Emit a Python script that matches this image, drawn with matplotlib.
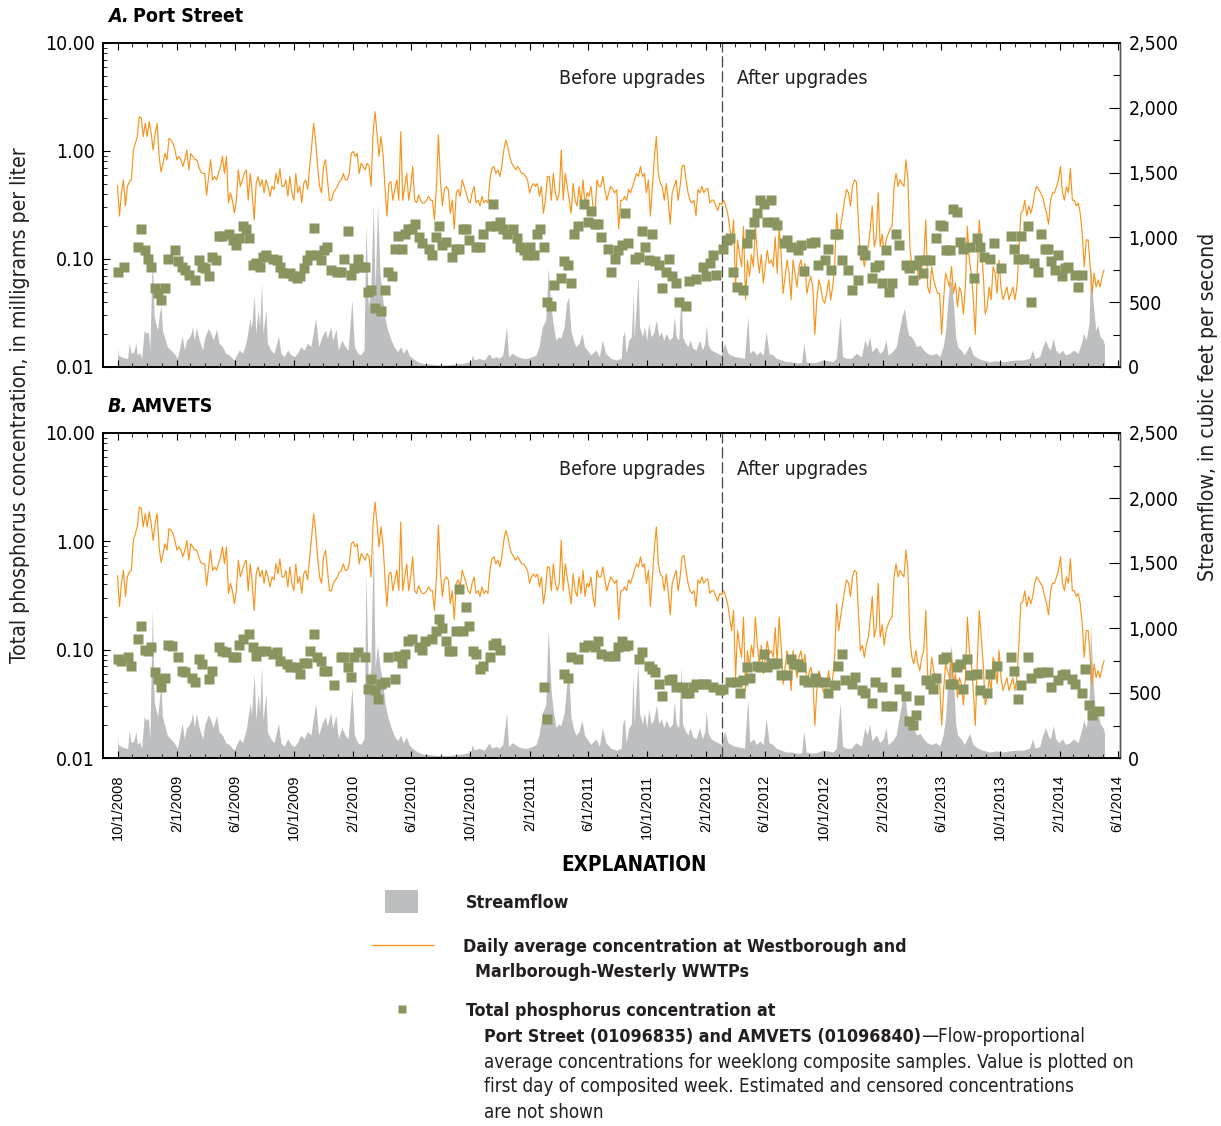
import matplotlib
matplotlib.use("Agg")
import matplotlib.pyplot as plt
import matplotlib.dates as mdates
from matplotlib.lines import Line2D
from matplotlib.patches import Rectangle
from matplotlib.ticker import FixedLocator, FuncFormatter, NullFormatter, LogLocator, MultipleLocator
import numpy as np
import pandas as pd

# Daily average concentration at Westborough and Marlborough-Westerly WWTPs (mg/L),
# read off the chart at a regular spacing between the first and last day plotted
wwtp_first_day = "2008-10-01"
wwtp_last_day = "2014-05-04"
conc_wwtp = [
    0.48, 0.25, 0.41, 0.54, 0.31, 0.47, 0.52, 0.54,
    1.02, 1.18, 1.36, 2.08, 2.01, 1.36, 1.80, 1.36, 1.87, 1.46, 1.02, 1.46,
    1.80, 0.89, 0.64, 0.77, 0.95, 0.83, 1.31, 1.26, 1.18, 1.02,
    0.83, 0.89, 0.83, 0.72, 0.83, 1.02, 0.67, 0.95, 0.89, 0.83,
    0.83, 0.72, 0.64, 0.62, 0.62, 0.39, 0.58, 0.83, 0.54, 0.58,
    0.54, 0.62, 0.72, 0.89, 0.62, 0.89, 0.33, 0.41, 0.35, 0.265,
    0.35, 0.67, 0.47, 0.54, 0.62, 0.67, 0.35, 0.62, 0.41, 0.23,
    0.50, 0.58, 0.47, 0.54, 0.41, 0.54, 0.47, 0.38, 0.47, 0.44,
    0.62, 0.50, 0.69, 0.47, 0.47, 0.54, 0.38, 0.58, 0.41, 0.35,
    0.62, 0.41, 0.47, 0.33, 0.50, 0.54, 0.44, 0.72, 1.10, 1.80,
    1.26, 0.72, 0.47, 0.41, 0.72, 0.83, 0.54, 0.35, 0.35, 0.41,
    0.44, 0.47, 0.52, 0.54, 0.62, 0.54, 0.54, 0.62, 0.95, 0.99,
    0.89, 0.95, 0.62, 0.77, 0.72, 0.67, 0.77, 0.72, 0.47, 1.46,
    2.31, 1.46, 0.89, 1.36, 0.95, 0.47, 0.25, 0.50, 0.52, 0.35,
    0.44, 0.54, 0.35, 1.51, 0.35, 0.47, 0.62, 0.35, 0.47, 0.72,
    0.35, 0.33, 0.39, 0.35, 0.33, 0.33, 0.35, 0.38, 0.35, 0.35,
    0.23, 0.47, 1.41, 0.54, 0.31, 0.44, 0.47, 0.44, 0.265, 0.35,
    0.19, 0.41, 0.44, 0.38, 0.54, 0.47, 0.41, 0.35, 0.33, 0.41,
    0.47, 0.33, 0.35, 0.31, 0.38, 0.33, 0.35, 0.33, 0.54, 0.69,
    0.72, 0.62, 0.67, 0.58, 0.72, 1.02, 1.26, 1.10, 0.89, 0.77,
    0.72, 0.67, 0.72, 0.67, 0.62, 0.62, 0.58, 0.54, 0.41, 0.47,
    0.50, 0.47, 0.50, 0.38, 0.47, 0.265, 0.35, 0.58, 0.58, 0.35,
    0.62, 0.41, 0.35, 0.41, 1.02, 0.35, 0.62, 0.47, 0.35, 0.265,
    0.50, 0.35, 0.31, 0.47, 0.33, 0.54, 0.31, 0.41, 0.38, 0.47,
    0.31, 0.25, 0.54, 0.47,
    0.47, 0.58, 0.44, 0.35, 0.41, 0.47, 0.44, 0.41, 0.44, 0.19,
    0.35, 0.35, 0.38, 0.35, 0.44, 0.41, 0.47, 0.54, 0.62, 0.58,
    0.72, 0.58, 0.62, 0.41, 0.54, 0.25, 0.47, 0.86, 1.36, 0.62,
    0.50, 0.47, 0.35, 0.50, 0.35, 0.21, 0.41, 0.47, 0.54, 0.35,
    0.47, 0.72, 0.74, 0.54, 0.41, 0.35, 0.33, 0.35, 0.25, 0.44,
    0.41, 0.47, 0.41, 0.44, 0.45, 0.33, 0.35, 0.35, 0.31, 0.28,
    0.33, 0.32, 0.35, 0.31, 0.265, 0.20, 0.15, 0.23, 0.055, 0.15,
    0.11, 0.085, 0.20, 0.042, 0.098, 0.069, 0.11, 0.085, 0.20, 0.11,
    0.074, 0.11, 0.060, 0.085, 0.12, 0.091, 0.098, 0.085, 0.16, 0.074,
    0.20, 0.11, 0.048, 0.069, 0.098, 0.074, 0.042, 0.098, 0.074, 0.055,
    0.085, 0.098, 0.069, 0.091, 0.048, 0.060, 0.069, 0.055, 0.020, 0.042,
    0.064, 0.055, 0.042, 0.039, 0.048, 0.064, 0.042, 0.055, 0.085, 0.265,
    0.15, 0.20, 0.265, 0.35, 0.44, 0.41, 0.31, 0.47, 0.54, 0.52,
    0.23, 0.098, 0.11, 0.085, 0.11, 0.13, 0.19, 0.31, 0.13, 0.16,
    0.41, 0.13, 0.17, 0.11, 0.15, 0.17, 0.19, 0.20, 0.47, 0.62,
    0.47, 0.54, 0.50, 0.47, 0.83, 0.54, 0.13, 0.085, 0.074, 0.098,
    0.074, 0.064, 0.085, 0.098, 0.23, 0.055, 0.048, 0.085, 0.064, 0.055,
    0.048, 0.048, 0.020, 0.042, 0.074, 0.064, 0.055, 0.085, 0.048, 0.060,
    0.036, 0.055, 0.048, 0.031, 0.055, 0.20, 0.098, 0.074, 0.042, 0.020,
    0.074, 0.23, 0.13, 0.074, 0.031, 0.036, 0.055, 0.042, 0.085, 0.074,
    0.048, 0.098, 0.055, 0.042, 0.048, 0.055, 0.042, 0.048, 0.055, 0.042,
    0.055, 0.11, 0.265, 0.28, 0.35, 0.25, 0.31, 0.265, 0.31, 0.41,
    0.47, 0.44, 0.41, 0.38, 0.31, 0.265, 0.21, 0.35, 0.41, 0.41,
    0.47, 0.54, 0.72, 0.41, 0.35, 0.47, 0.41, 0.69, 0.35, 0.35,
    0.31, 0.33, 0.265, 0.17, 0.085, 0.15, 0.15, 0.085, 0.048, 0.074,
    0.055, 0.064, 0.055, 0.069, 0.079,
]

# Streamflow (cfs): days after 10/1/2008 and the flow at each bend of the outline
flow_day = [
    0, 1, 10, 21, 24, 28, 34, 38, 41, 46,
    50, 55, 60, 64, 67, 72, 76, 79, 83, 86,
    90, 93, 97, 103, 110, 117, 124, 129, 134, 138,
    143, 147, 152, 155, 159, 163, 169, 176, 181, 188,
    193, 198, 205, 210, 217, 224, 231, 241, 252, 259,
    267, 274, 277, 283, 286, 291, 294, 298, 301, 307,
    310, 317, 324, 333, 338, 345, 352, 359, 366, 372,
    379, 386, 393, 400, 410, 416, 423, 430, 434, 441,
    445, 452, 457, 464, 471, 477, 485, 490, 497, 503,
    510, 514, 519, 524, 529, 533, 538, 543, 548, 554,
    559, 566, 572, 579, 586, 591, 598, 603, 610, 621,
    631, 645, 659, 679, 700, 714, 731, 734, 738, 748,
    759, 769, 774, 783, 790, 797, 805, 809, 817, 828,
    838, 848, 859, 866, 872, 879, 886, 891, 897, 901,
    907, 912, 917, 924, 929, 933, 938, 943, 948, 955,
    961, 966, 972, 979, 990, 997, 1003, 1010, 1021, 1032,
    1042, 1045, 1049, 1052, 1058, 1063, 1067, 1069, 1073, 1077,
    1080, 1086, 1090, 1095, 1099, 1104, 1109, 1115, 1120, 1125,
    1130, 1135, 1142, 1148, 1152, 1156, 1161, 1166, 1169, 1175,
    1180, 1185, 1190, 1197, 1204, 1210, 1215, 1218, 1222, 1228,
    1235, 1242, 1249, 1256, 1263, 1269, 1277, 1287, 1297, 1304,
    1308, 1315, 1322, 1329, 1336, 1342, 1348, 1356, 1363, 1373,
    1384, 1394, 1404, 1415, 1420, 1425, 1438, 1449, 1459, 1470,
    1480, 1487, 1495, 1500, 1508, 1518, 1528, 1539, 1546, 1551,
    1556, 1561, 1570, 1577, 1584, 1590, 1594, 1603, 1611, 1618,
    1623, 1628, 1633, 1637, 1642, 1647, 1653, 1660, 1668, 1675,
    1684, 1694, 1701, 1708, 1713, 1718, 1721, 1725, 1730, 1734,
    1738, 1745, 1752, 1763, 1770, 1780, 1790, 1804, 1818, 1832,
    1846, 1859, 1873, 1887, 1893, 1898, 1908, 1914, 1920, 1925,
    1930, 1936, 1941, 1948, 1955, 1961, 1970, 1978, 1987, 1994,
    1999, 2004, 2010, 2013, 2018, 2024, 2028, 2033, 2039, 2042,
]
flow_port = [
    162, 93, 75, 64, 188, 105, 118, 183, 93, 111,
    67, 280, 260, 273, 131, 867, 388, 337, 285, 388,
    478, 285, 234, 157, 131, 105, 67, 157, 239, 131,
    208, 221, 255, 311, 208, 306, 208, 131, 234, 298,
    260, 208, 291, 183, 157, 105, 93, 54, 131, 105,
    208, 376, 298, 556, 260, 440, 311, 646, 260, 440,
    183, 131, 105, 239, 105, 80, 131, 93, 80, 105,
    157, 131, 183, 157, 376, 157, 234, 285, 221, 311,
    208, 291, 131, 208, 157, 131, 517, 157, 105, 93,
    131, 1100, 466, 594, 1255, 600, 1255, 723, 543, 363,
    285, 208, 157, 118, 157, 105, 144, 93, 67, 41,
    28, 23, 18, 15, 23, 28, 41, 93, 54, 67,
    54, 105, 67, 80, 67, 93, 311, 80, 105, 80,
    67, 67, 80, 93, 157, 311, 363, 761, 466, 337,
    208, 234, 221, 311, 491, 543, 285, 208, 157, 183,
    260, 157, 131, 93, 131, 80, 208, 105, 67, 54,
    67, 234, 273, 105, 208, 234, 568, 234, 466, 697,
    311, 234, 311, 208, 337, 234, 260, 363, 234, 273,
    208, 260, 208, 234, 388, 234, 208, 556, 234, 183,
    157, 208, 144, 131, 208, 131, 183, 324, 170, 131,
    118, 105, 93, 183, 105, 93, 80, 75, 67, 388,
    105, 131, 93, 118, 93, 273, 105, 93, 67, 54,
    41, 41, 33, 33, 183, 39, 33, 41, 54, 49,
    41, 67, 394, 80, 67, 67, 105, 80, 208, 157,
    234, 118, 157, 105, 131, 208, 93, 118, 157, 298,
    388, 453, 311, 247, 234, 208, 157, 170, 131, 105,
    93, 105, 80, 157, 273, 517, 633, 671, 466, 234,
    157, 131, 93, 170, 93, 67, 54, 41, 49, 41,
    49, 54, 54, 67, 131, 67, 80, 157, 208, 157,
    131, 221, 131, 105, 131, 93, 105, 131, 105, 183,
    260, 208, 337, 787, 517, 285, 324, 234, 208, 170,
]
flow_amvets = [
    180, 105, 85, 72, 210, 118, 132, 205, 105, 125,
    75, 315, 290, 305, 147, 1143, 430, 380, 320, 430,
    560, 320, 262, 176, 147, 118, 75, 176, 268, 147,
    233, 248, 286, 348, 233, 343, 233, 147, 262, 334,
    291, 233, 326, 205, 176, 118, 104, 60, 147, 118,
    233, 421, 334, 651, 291, 493, 348, 702, 291, 493,
    205, 147, 118, 268, 118, 90, 147, 104, 90, 118,
    176, 147, 205, 176, 421, 176, 262, 319, 248, 348,
    233, 326, 147, 233, 176, 147, 544, 176, 118, 104,
    147, 1420, 540, 690, 1664, 700, 870, 700, 600, 410,
    320, 233, 176, 132, 176, 118, 161, 104, 75, 46,
    31, 26, 20, 17, 26, 31, 46, 104, 60, 75,
    60, 118, 75, 90, 75, 104, 348, 90, 118, 90,
    75, 75, 90, 104, 176, 348, 410, 997, 520, 377,
    233, 262, 248, 348, 550, 702, 319, 233, 176, 205,
    291, 176, 147, 104, 147, 90, 233, 118, 75, 60,
    75, 262, 306, 118, 233, 262, 636, 262, 522, 715,
    348, 262, 348, 233, 377, 262, 291, 407, 262, 306,
    233, 291, 233, 262, 435, 262, 233, 702, 262, 205,
    176, 233, 161, 147, 233, 147, 205, 363, 190, 147,
    132, 118, 104, 205, 118, 104, 90, 84, 75, 459,
    118, 147, 104, 132, 104, 306, 118, 104, 75, 60,
    46, 46, 37, 37, 205, 44, 37, 46, 60, 55,
    46, 75, 420, 90, 75, 75, 118, 90, 233, 176,
    262, 132, 176, 118, 147, 233, 104, 132, 176, 334,
    435, 523, 348, 277, 262, 233, 176, 190, 147, 118,
    104, 118, 90, 176, 306, 600, 760, 869, 560, 262,
    176, 147, 104, 190, 104, 75, 60, 46, 55, 46,
    55, 60, 60, 75, 147, 75, 90, 176, 233, 176,
    147, 248, 147, 118, 147, 104, 118, 147, 118, 205,
    291, 233, 377, 1036, 600, 319, 363, 262, 233, 190,
]

# Weekly composite samples: week number after 10/1/2008 and total phosphorus (mg/L)
port_week = [
    0, 2, 6, 7, 8, 9, 10, 11, 12, 13, 14, 15, 17, 18, 19, 20, 21, 23, 24, 25,
    26, 27, 28, 29, 30, 31, 33, 34, 35, 36, 37, 38, 39, 40, 41, 42, 43, 44, 46, 47,
    48, 49, 51, 52, 53, 54, 55, 56, 57, 58, 59, 60, 61, 62, 63, 65, 66, 67, 68, 69,
    70, 71, 72, 73, 74, 75, 76, 78, 79, 80, 81, 82, 83, 84, 85, 86, 87, 88, 89, 90,
    92, 93, 94, 95, 96, 97, 99, 100, 101, 102, 103, 104, 106, 107, 108, 110, 111, 112, 113, 114,
    115, 117, 118, 119, 120, 121, 122, 123, 124, 125, 126, 127, 128, 129, 131, 132, 133, 134, 135, 136,
    138, 139, 140, 141, 142, 143, 145, 146,
    147, 148, 149, 150, 151, 153, 154, 155, 156, 157, 158, 159, 160, 161, 162, 163, 164, 165, 166, 168,
    169, 171, 173, 174, 175, 176, 177, 179, 180, 181, 182, 183, 185, 186, 187, 188, 189, 190, 191, 192,
    193, 194, 195, 197, 198, 199, 201, 202, 203, 205, 206, 207, 209, 210, 211, 212, 213, 214, 216, 217,
    219, 220, 221, 223, 224, 225, 226, 227, 228, 229, 230, 231, 233, 234, 235, 236, 237, 238, 239, 240,
    242, 243, 244, 245, 246, 247, 248, 249, 250, 252, 253, 254, 255, 256, 258, 259, 261, 264, 265, 266,
    267, 268, 269, 270, 271, 272, 273, 274, 275, 276, 277, 278, 279, 280, 281, 283, 284, 285,
]
port_tp = [
    0.076, 0.085, 0.13, 0.19, 0.12, 0.10, 0.085, 0.054, 0.048, 0.042, 0.054, 0.10, 0.12, 0.095, 0.085, 0.079, 0.071, 0.064, 0.098, 0.085,
    0.082, 0.069, 0.105, 0.098, 0.165, 0.165, 0.17, 0.15, 0.135, 0.155, 0.20, 0.19, 0.155, 0.088, 0.091, 0.085, 0.105, 0.108, 0.10, 0.098,
    0.085, 0.074, 0.074, 0.069, 0.066, 0.069, 0.082, 0.098, 0.108, 0.195, 0.108, 0.098, 0.12, 0.13, 0.079, 0.076, 0.076, 0.10, 0.18, 0.071,
    0.082, 0.10, 0.085, 0.085, 0.050, 0.052, 0.035, 0.033, 0.052, 0.076, 0.069, 0.125, 0.165, 0.125, 0.17, 0.19, 0.19, 0.21, 0.16, 0.14,
    0.125, 0.108, 0.16, 0.20, 0.135, 0.145, 0.105, 0.125, 0.125, 0.19, 0.19, 0.15, 0.13, 0.13, 0.17, 0.20, 0.32, 0.20, 0.22, 0.19,
    0.17, 0.19, 0.155, 0.13, 0.12, 0.11, 0.13, 0.11, 0.17, 0.19, 0.13, 0.040, 0.037, 0.058, 0.066, 0.095, 0.088, 0.060, 0.17, 0.20,
    0.32, 0.22, 0.28, 0.21, 0.21, 0.16, 0.125, 0.076,
    0.10, 0.12, 0.135, 0.265, 0.14, 0.10, 0.105, 0.18, 0.13, 0.098, 0.17, 0.095, 0.088, 0.054, 0.076, 0.10, 0.069, 0.060, 0.040, 0.037,
    0.062, 0.065, 0.085, 0.069, 0.091, 0.11, 0.071, 0.125, 0.15, 0.155, 0.076, 0.055, 0.052, 0.14, 0.17, 0.22, 0.265, 0.35, 0.32, 0.22,
    0.35, 0.22, 0.205, 0.14, 0.15, 0.13, 0.12, 0.135, 0.078, 0.14, 0.145, 0.088, 0.098, 0.125, 0.079, 0.17, 0.17, 0.098, 0.079, 0.052,
    0.064, 0.12, 0.11, 0.066, 0.085, 0.088, 0.060, 0.12, 0.050, 0.060, 0.17, 0.135, 0.088, 0.082, 0.064, 0.088, 0.098, 0.074, 0.098, 0.098,
    0.155, 0.205, 0.20, 0.12, 0.12, 0.29, 0.275, 0.145, 0.125, 0.13, 0.066, 0.155, 0.13, 0.105, 0.10, 0.14, 0.082, 0.165, 0.125, 0.10,
    0.165, 0.10, 0.20, 0.040, 0.091, 0.076, 0.17, 0.125, 0.125, 0.095, 0.079, 0.108, 0.069, 0.082, 0.085, 0.071, 0.055, 0.071,
]
amvets_week = [
    0, 1, 3, 4, 6, 7, 8, 9, 10, 11, 12, 13, 14, 15, 16, 18, 19, 20, 22, 23,
    24, 25, 27, 28, 30, 31, 32, 34, 35, 36, 37, 39, 40, 41, 42, 44, 46, 47, 48, 50,
    51, 53, 54, 55, 56, 57, 58, 59, 60, 61, 62, 64, 66, 67, 68, 69, 70, 71, 73, 74,
    75, 76, 77, 78, 79, 80, 82, 83, 84, 85, 86, 87, 89, 90, 91, 93, 94, 95, 96, 97,
    98, 99, 100, 101, 102, 103, 104, 105, 106, 107, 108, 110, 111, 112, 113, 126, 127, 132, 133, 134,
    136, 138, 139, 141, 142, 143, 145,
    147, 148, 149, 150, 151, 154, 155, 157, 158, 159, 160, 161, 163, 164, 165, 167, 168, 169, 170, 171,
    173, 174, 176, 178, 179, 181, 183, 184, 185, 186, 187, 189, 190, 191, 192, 193, 194, 195, 196, 198,
    199, 200, 201, 202, 203, 204, 206, 207, 209, 210, 212, 213, 214, 215, 217, 218, 220, 221, 223, 224,
    226, 227, 229, 230, 231, 233, 234, 235, 236, 237, 239, 240, 241, 242, 244, 245, 246, 247, 248, 249,
    250, 251, 252, 254, 255, 257, 258, 260, 264, 265, 266, 267, 269, 270, 272, 273, 275, 276, 278, 279,
    280, 282, 283, 285, 286, 287, 288, 290,
]
amvets_tp = [
    0.082, 0.079, 0.085, 0.071, 0.125, 0.165, 0.10, 0.098, 0.105, 0.062, 0.054, 0.045, 0.055, 0.11, 0.108, 0.085, 0.064, 0.062, 0.055, 0.050,
    0.082, 0.074, 0.054, 0.064, 0.105, 0.098, 0.095, 0.085, 0.085, 0.11, 0.125, 0.14, 0.105, 0.088, 0.098, 0.098, 0.091, 0.095, 0.079, 0.074,
    0.069, 0.069, 0.060, 0.076, 0.076, 0.098, 0.14, 0.085, 0.079, 0.064, 0.064, 0.047, 0.085, 0.085, 0.069, 0.056, 0.085, 0.095, 0.085, 0.043,
    0.054, 0.042, 0.035, 0.048, 0.050, 0.085, 0.054, 0.088, 0.076, 0.091, 0.12, 0.125, 0.105, 0.10, 0.12, 0.125, 0.15, 0.19, 0.16, 0.12,
    0.098, 0.098, 0.15, 0.36, 0.15, 0.25, 0.165, 0.098, 0.091, 0.066, 0.071, 0.085, 0.11, 0.115, 0.10, 0.045, 0.023, 0.060, 0.055, 0.085,
    0.082, 0.105, 0.11, 0.105, 0.12, 0.091, 0.088,
    0.088, 0.105, 0.12, 0.108, 0.11, 0.082, 0.095, 0.071, 0.066, 0.062, 0.048, 0.037, 0.052, 0.054, 0.045, 0.045, 0.040, 0.040, 0.045, 0.048,
    0.048, 0.048, 0.045, 0.042, 0.043, 0.050, 0.050, 0.040, 0.052, 0.069, 0.055, 0.071, 0.069, 0.091, 0.069, 0.076, 0.074, 0.076, 0.058, 0.058,
    0.082, 0.074, 0.074, 0.069, 0.052, 0.050, 0.055, 0.050, 0.050, 0.040, 0.047, 0.071, 0.091, 0.052, 0.048, 0.056, 0.042, 0.040, 0.032, 0.050,
    0.045, 0.030, 0.030, 0.062, 0.043, 0.037, 0.022, 0.020, 0.025, 0.034, 0.052, 0.048, 0.043, 0.055, 0.082, 0.085, 0.048, 0.048, 0.069, 0.074,
    0.043, 0.082, 0.058, 0.060, 0.042, 0.040, 0.060, 0.071, 0.085, 0.064, 0.035, 0.047, 0.085, 0.055, 0.061, 0.062, 0.062, 0.045, 0.052, 0.058,
    0.060, 0.054, 0.048, 0.040, 0.066, 0.031, 0.025, 0.027,
]

upgrade_day = "2012-03-04"
conc_ticks = [0.01, 0.1, 1, 10]
flow_ticks = [0, 500, 1000, 1500, 2000, 2500]

ORANGE = "#f7941d"
GREEN = "#88955f"
GRAY = "#bcbec0"
INK = "#231f20"
W, H = 1221, 1126

# narrow face (DejaVu Sans Condensed) for the chart text, Arial-like face for the dates
COND = ["DejaVu Sans"]
STRETCH = "condensed"
plt.rcParams["font.family"] = ["Liberation Sans", "DejaVu Sans"]

start = pd.Timestamp("2008-10-01")
wwtp_dates = pd.date_range(wwtp_first_day, wwtp_last_day, periods=len(conc_wwtp))
flow_dates = start + pd.to_timedelta(flow_day, unit="D")


def week_dates(weeks):
    return start + pd.to_timedelta(np.array(weeks) * 7, unit="D")


def fig_box(left, top, right, bottom):
    return [left / W, 1 - bottom / H, (right - left) / W, (bottom - top) / H]


def fx(x):
    return x / W


def fy(y):
    return 1 - y / H


fig = plt.figure(figsize=(W / 100, H / 100), dpi=100)

panels = [
    ("A.", "Port Street", flow_port, port_week, port_tp, 43, 367, False),
    ("B.", "AMVETS", flow_amvets, amvets_week, amvets_tp, 433, 758, True),
]

cond = dict(family=COND, fontstretch=STRETCH)
title_texts = []
for letter, name, flow, weeks, tp, top, bottom, show_dates in panels:
    ax = fig.add_axes(fig_box(103, top, 1120, bottom))
    axf = ax.twinx()
    ax.set_zorder(axf.get_zorder() + 1)
    ax.patch.set_visible(False)

    axf.fill_between(flow_dates, 0, flow, color=GRAY, lw=0)
    axf.set_ylim(0, 2500)
    axf.yaxis.set_major_locator(FixedLocator(flow_ticks))
    axf.yaxis.set_minor_locator(MultipleLocator(250))
    axf.yaxis.set_major_formatter(FuncFormatter(lambda v, p: f"{v:,.0f}"))
    axf.tick_params(axis="y", which="major", direction="in", length=8, width=0.8,
                    labelsize=14, pad=6)
    axf.tick_params(axis="y", which="minor", direction="in", length=5, width=0.8)

    ax.plot(wwtp_dates, conc_wwtp, color=ORANGE, lw=0.85, zorder=2)
    ax.plot(week_dates(weeks), tp, "s", color=GREEN, ms=7, mec="none", zorder=3)

    ax.set_yscale("log")
    ax.set_ylim(0.01, 10)
    ax.yaxis.set_major_locator(FixedLocator(conc_ticks))
    ax.yaxis.set_minor_locator(LogLocator(base=10, subs=np.arange(2, 10)))
    ax.yaxis.set_major_formatter(FuncFormatter(lambda v, p: f"{v:.2f}"))
    ax.yaxis.set_minor_formatter(NullFormatter())
    ax.tick_params(axis="y", which="major", direction="in", length=5, width=0.8,
                   labelsize=14, pad=6)
    ax.tick_params(axis="y", which="minor", direction="in", length=3, width=0.6)

    ax.set_xlim(pd.Timestamp("2008-09-01"), pd.Timestamp("2014-06-06"))
    ax.xaxis.set_major_locator(mdates.MonthLocator(bymonth=[2, 6, 10]))
    ax.xaxis.set_minor_locator(mdates.MonthLocator())
    ax.xaxis.set_major_formatter(FuncFormatter(
        lambda v, p: "{d.month}/{d.day}/{d.year}".format(d=mdates.num2date(v))))
    ax.tick_params(axis="x", which="major", direction="in", length=5, width=0.8,
                   top=True, bottom=True, labelbottom=show_dates, labelrotation=90,
                   labelsize=10.5, pad=12)
    ax.tick_params(axis="x", which="minor", direction="in", length=3, width=0.6,
                   top=True, bottom=True)

    for a in (ax, axf):
        for side in ("top", "bottom", "left"):
            a.spines[side].set_linewidth(1.2)
        a.spines["right"].set_linewidth(1.0)
        a.spines["right"].set_color("#555555")

    ax.axvline(pd.Timestamp(upgrade_day), color="#444444", lw=0.9, ls=(0, (9, 3)), zorder=1)
    ax.annotate("Before upgrades", xy=(pd.Timestamp(upgrade_day), 0.889),
                xycoords=("data", "axes fraction"), xytext=(-12, 0), textcoords="offset points",
                ha="right", va="center", fontsize=14, color=INK, **cond)
    ax.annotate("After upgrades", xy=(pd.Timestamp(upgrade_day), 0.889),
                xycoords=("data", "axes fraction"), xytext=(11, 0), textcoords="offset points",
                ha="left", va="center", fontsize=14, color=INK, **cond)

    fig.canvas.draw()
    for lbl in ax.get_yticklabels() + axf.get_yticklabels():
        lbl.set_family(COND)
        lbl.set_fontstretch(STRETCH)

    title_y = top - 27
    t1 = fig.text(fx(108), fy(title_y), letter, fontsize=14, fontweight="bold",
                  fontstyle="italic", va="center", ha="left", **cond)
    title_texts.append((t1, name, title_y))

fig.text(fx(20), fy(405), "Total phosphorus concentration, in milligrams per liter",
         rotation=90, ha="center", va="center", fontsize=15.2, color=INK, **cond)
fig.text(fx(1208), fy(407), "Streamflow, in cubic feet per second",
         rotation=90, ha="center", va="center", fontsize=15.2, color=INK, **cond)

# Explanation
fig.text(fx(634), fy(865), "EXPLANATION", ha="center", va="center", fontsize=14.8,
         fontweight="bold", **cond)
fig.add_artist(Rectangle((fx(385), fy(913)), 33 / W, 23 / H, transform=fig.transFigure,
                         facecolor=GRAY, edgecolor="none"))
fig.add_artist(Line2D([fx(372), fx(433)], [fy(945), fy(945)], transform=fig.transFigure,
                      color=ORANGE, lw=1.0))
fig.add_artist(Line2D([fx(402)], [fy(1009)], transform=fig.transFigure, marker="s",
                      ms=6, color=GREEN, mec="none", ls="none"))

bold = dict(fontsize=12.8, fontweight="bold", va="center", ha="left", color=INK, **cond)
plain = dict(fontsize=13.5, va="center", ha="left", color=INK, **cond)
fig.text(fx(466), fy(903), "Streamflow", **bold)
fig.text(fx(463), fy(947), "Daily average concentration at Westborough and", **bold)
fig.text(fx(475), fy(972), "Marlborough-Westerly WWTPs", **bold)
fig.text(fx(466), fy(1011), "Total phosphorus concentration at", **bold)
t_sites = fig.text(fx(484), fy(1037), "Port Street (01096835) and AMVETS (01096840)", **bold)
fig.text(fx(484), fy(1062), "average concentrations for weeklong composite samples. Value is plotted on", **plain)
fig.text(fx(484), fy(1087), "first day of composited week. Estimated and censored concentrations", **plain)
fig.text(fx(484), fy(1112), "are not shown", **plain)

renderer = fig.canvas.get_renderer()
bb = t_sites.get_window_extent(renderer)
fig.text(bb.x1 / W, fy(1037), "\u2014Flow-proportional", **plain)
for t1, name, title_y in title_texts:
    bb = t1.get_window_extent(renderer)
    fig.text(bb.x1 / W + 4 / W, fy(title_y), name, fontsize=14, fontweight="bold",
             va="center", ha="left", **cond)

fig.savefig("out.png", dpi=100)
